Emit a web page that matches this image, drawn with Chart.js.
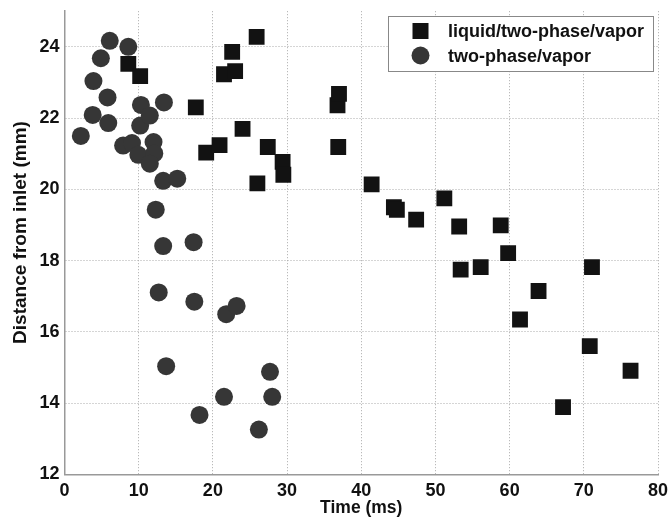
<!DOCTYPE html>
<html>
<head>
<meta charset="utf-8">
<script src="https://cdn.jsdelivr.net/npm/chart.js@4/dist/chart.umd.min.js"></script>
<style>
html,body{margin:0;padding:0;background:#fff;}
#wrap{width:670px;height:522px;position:relative;}
</style>
</head>
<body>
<div id="wrap"><canvas id="c" width="670" height="522"></canvas></div>
<script>
// Series: liquid/two-phase/vapor (squares)
const liquidTime = [8.6,10.2,17.7,19.1,20.9,21.5,22.6,23.0,24.0,25.9,26.0,27.4,29.4,29.5,36.8,37.0,36.9,41.4,44.4,44.8,47.4,51.2,53.2,53.4,56.1,58.8,59.8,61.4,63.9,67.2,70.8,71.1,76.3];
const liquidDist = [23.52,23.18,22.30,21.03,21.24,23.23,23.86,23.32,21.70,24.28,20.17,21.19,20.77,20.41,22.36,22.68,21.19,20.14,19.50,19.43,19.15,19.75,18.96,17.75,17.82,18.99,18.21,16.35,17.15,13.89,15.60,17.82,14.91];
// Series: two-phase/vapor (circles)
const twoTime = [2.2,3.8,3.9,4.9,6.1,8.6,5.8,5.9,7.9,9.1,10.2,10.3,11.5,13.4,12.0,9.95,12.1,11.5,13.3,15.2,12.3,13.3,17.4,12.7,17.5,21.8,23.2,13.7,18.2,21.5,27.7,28.0,26.2];
const twoDist = [21.50,22.09,23.04,23.68,24.17,24.00,22.58,21.86,21.23,21.30,21.79,22.37,22.07,22.44,21.33,20.97,21.01,20.72,20.24,20.30,19.43,18.41,18.52,17.11,16.85,16.50,16.73,15.04,13.67,14.18,14.88,14.18,13.26];
const seriesNames = ['liquid/two-phase/vapor','two-phase/vapor'];
const xTitle = 'Time (ms)';
const yTitle = 'Distance from inlet (mm)';
const xTicks = [0,10,20,30,40,50,60,70,80];
const yTicks = [12,14,16,18,20,22,24];

const toPts = (xs, ys) => xs.map((x, i) => ({x: x, y: ys[i]}));
const FONT = 'Liberation Sans, Arial, sans-serif';

const legendPlugin = {
  id: 'boxLegend',
  afterDraw(chart) {
    const ctx = chart.ctx;
    ctx.save();
    const x0 = 388.5, y0 = 16.5, w = 265, h = 55;
    ctx.fillStyle = '#fff';
    ctx.fillRect(x0, y0, w, h);
    ctx.strokeStyle = '#888';
    ctx.lineWidth = 1;
    ctx.strokeRect(x0, y0, w, h);
    ctx.fillStyle = '#121212';
    ctx.fillRect(420.5 - 8, 31 - 8, 16, 16);
    ctx.fillStyle = '#363636';
    ctx.beginPath();
    ctx.arc(420.5, 55.5, 9, 0, Math.PI * 2);
    ctx.fill();
    ctx.fillStyle = '#111';
    ctx.font = 'bold 18px ' + FONT;
    ctx.textBaseline = 'middle';
    ctx.textAlign = 'left';
    ctx.fillText(seriesNames[0], 448, 32);
    ctx.fillText(seriesNames[1], 448, 57);
    // y-axis title
    ctx.translate(20.5, 232.5);
    ctx.rotate(-Math.PI / 2);
    ctx.textAlign = 'center';
    ctx.font = 'bold 19px ' + FONT;
    ctx.fillText(yTitle, 0, 0);
    ctx.restore();
  }
};

new Chart(document.getElementById('c'), {
  type: 'scatter',
  data: {
    datasets: [
      {
        label: seriesNames[0],
        data: toPts(liquidTime, liquidDist),
        pointStyle: 'rect',
        pointRadius: 11.2,
        pointHoverRadius: 11.2,
        backgroundColor: '#121212',
        borderColor: '#121212',
        borderWidth: 0
      },
      {
        label: seriesNames[1],
        data: toPts(twoTime, twoDist),
        pointStyle: 'circle',
        pointRadius: 9,
        pointHoverRadius: 9,
        backgroundColor: '#363636',
        borderColor: '#363636',
        borderWidth: 0
      }
    ]
  },
  options: {
    responsive: false,
    animation: false,
    devicePixelRatio: 1,
    layout: { padding: { left: 0, top: 6, right: 12, bottom: 0 } },
    plugins: {
      legend: { display: false },
      tooltip: { enabled: false }
    },
    scales: {
      x: {
        type: 'linear',
        min: 0, max: 80,
        afterBuildTicks: (s) => { s.ticks = xTicks.map(v => ({value: v})); },
        afterFit: (s) => { s.height = 47.5; s.paddingLeft = 0; s.paddingRight = 0; },
        grid: { color: '#aaa', lineWidth: 1, drawTicks: false },
        border: { display: true, color: '#999', width: 1.5, dash: [1, 2] },
        ticks: { color: '#111', font: { family: FONT, size: 18, weight: 'bold' }, padding: 6, maxRotation: 0 },
        title: { display: true, text: xTitle, color: '#111', font: { family: FONT, size: 17.5, weight: 'bold', lineHeight: 1.2 }, padding: { top: 0, bottom: 3.5 } }
      },
      y: {
        type: 'linear',
        min: 12, max: 25,
        afterBuildTicks: (s) => { s.ticks = yTicks.map(v => ({value: v})); },
        afterFit: (s) => { s.width = 64.5; s.paddingTop = 0; s.paddingBottom = 0; },
        grid: { color: '#aaa', lineWidth: 1, drawTicks: false },
        border: { display: true, color: '#999', width: 1.5, dash: [1, 2] },
        ticks: { color: '#111', font: { family: FONT, size: 18, weight: 'bold' }, padding: 5 },
        title: { display: false }
      }
    }
  },
  plugins: [legendPlugin]
});
</script>
</body>
</html>
